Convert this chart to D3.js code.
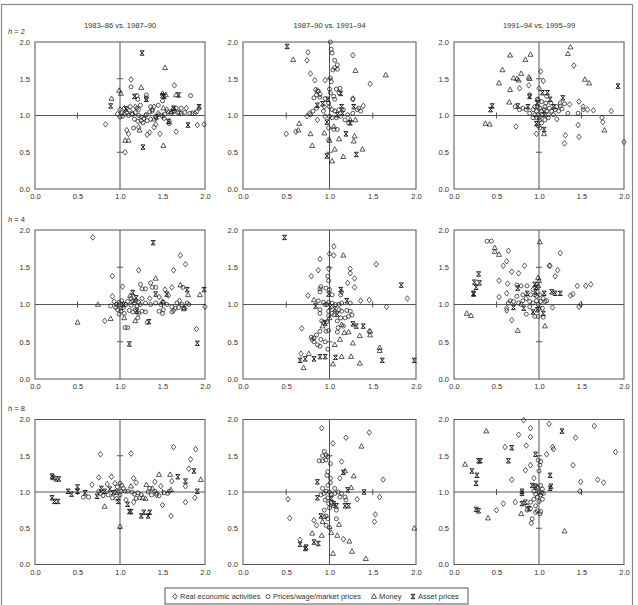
<!DOCTYPE html>
<html>
<head>
<meta charset="utf-8">
<script src="https://cdn.jsdelivr.net/npm/d3@7"></script>
<style>
  body { margin: 0; background: #fff; }
  svg { font-family: "Liberation Sans", Arial, sans-serif; }
</style>
</head>
<body>
<svg id="chart" width="638" height="605"></svg>
<script>
// ---- data: [x, y] ratios ----
const ticks = [0, 0.5, 1, 1.5, 2];
const colTitles = ["1983\u201386 vs. 1987\u201390", "1987\u201390 vs. 1991\u201394", "1991\u201394 vs. 1995\u201399"];
const rowLabels = ["2", "4", "8"];
const seriesNames = ["Real economic activities", "Prices/wage/market prices", "Money", "Asset prices"];

// h = 2, 1983-86 vs 1987-90
const r1 = [[0.83,0.88],[1.08,0.80],[1.10,0.75],[1.22,0.84],[1.32,0.74],[1.35,0.77],[1.40,0.84],[1.42,0.88],[1.47,0.75],[1.66,0.78],[1.91,0.87],[1.99,0.88],[1.06,0.50],[1.64,1.41],[1.13,1.49],[1.93,1.10],[1.85,1.03],[1.88,1.03],[1.78,1.10],[1.00,1.08],[1.05,1.10],[1.18,1.12],[1.22,1.08],[1.40,1.12],[1.55,1.08],[1.62,1.05],[1.70,1.04],[1.30,1.00],[1.45,1.03],[0.97,1.02],[1.15,1.02],[1.58,0.92],[1.25,0.93],[1.36,0.95]];
const p1 = [[1.13,1.39],[1.20,1.27],[1.21,1.22],[1.31,1.28],[1.31,1.24],[1.50,1.20],[1.83,1.27],[1.16,0.83],[1.58,0.89],[1.02,1.04],[1.05,1.02],[1.08,1.04],[1.11,1.07],[1.14,1.02],[1.18,1.04],[1.22,1.00],[1.25,0.98],[1.28,0.96],[1.31,1.01],[1.35,1.05],[1.38,1.06],[1.42,0.98],[1.46,1.01],[1.50,0.99],[1.53,1.02],[1.56,1.05],[1.60,1.03],[1.64,1.06],[1.68,1.04],[1.72,1.03],[1.76,1.04],[1.82,1.03],[1.90,1.05],[1.20,1.10],[1.24,1.14],[1.36,1.12],[1.38,1.08],[1.45,1.14],[1.10,1.00],[1.17,0.95],[1.21,0.92],[1.27,0.90],[1.32,0.93],[1.00,0.98],[1.03,0.99],[1.52,0.96],[1.63,1.09],[1.66,1.10],[1.72,1.10],[1.12,1.12]];
const m1 = [[1.53,1.65],[1.25,1.38],[0.99,1.34],[1.01,1.30],[0.90,1.23],[1.50,1.30],[1.54,1.28],[1.66,1.28],[1.51,1.10],[1.23,0.80],[1.06,0.66],[1.10,0.66],[1.51,0.59],[1.60,1.05],[1.40,0.95]];
const a1 = [[1.26,1.85],[0.89,1.13],[1.17,1.26],[1.31,1.22],[1.50,1.27],[1.52,1.26],[1.69,1.28],[1.63,1.10],[1.93,1.12],[1.80,0.87],[1.27,0.57],[1.57,0.92],[1.07,1.09],[1.43,0.98]];

// h = 2, 1987-90 vs 1991-94
const r2 = [[0.50,0.75],[0.61,0.78],[0.75,1.86],[0.74,1.75],[0.78,1.57],[0.83,1.48],[0.95,1.48],[1.27,1.82],[1.47,1.43],[1.39,1.13],[1.27,1.23],[0.86,0.94],[0.74,0.99],[0.77,1.03],[0.84,1.35],[0.86,1.34],[0.89,1.29],[0.94,1.12],[0.99,0.67]];
const p2 = [[1.01,2.00],[1.02,1.90],[1.03,1.85],[1.06,1.75],[1.09,1.69],[1.09,1.63],[1.04,1.62],[1.06,1.65],[1.01,1.51],[1.02,1.46],[1.08,1.36],[1.12,1.37],[1.11,1.31],[1.00,1.36],[1.01,1.31],[1.05,1.26],[1.06,1.22],[0.99,1.17],[0.89,1.25],[0.85,1.28],[0.82,1.24],[0.87,1.33],[0.95,1.23],[1.00,1.12],[1.03,1.08],[1.06,1.06],[1.11,1.08],[1.16,1.08],[1.21,1.01],[1.27,1.03],[1.32,1.08],[1.36,1.06],[1.34,1.10],[1.27,1.22],[0.93,1.06],[0.95,0.99],[1.00,0.99],[1.03,0.97],[1.08,0.97],[1.13,0.99],[1.18,0.94],[1.22,0.90],[0.99,0.83],[1.09,0.81],[1.05,0.81],[0.78,1.01],[0.81,1.06],[0.85,1.10]];
const m2 = [[0.58,1.76],[1.30,1.61],[1.65,1.55],[0.65,0.89],[0.64,0.80],[0.78,0.75],[0.80,0.59],[0.94,0.76],[1.00,0.66],[1.03,0.38],[1.06,0.54],[1.05,0.85],[1.16,0.44],[1.11,0.68],[1.29,0.72],[1.28,0.65],[1.38,0.54],[1.30,0.94],[1.24,0.94]];
const a2 = [[0.51,1.94],[0.97,0.45],[1.31,0.47],[1.19,0.75],[0.86,1.14],[0.92,1.16],[1.13,1.30],[1.14,1.12],[1.28,1.12],[1.24,0.90],[0.97,0.91],[1.09,1.01],[1.15,1.03],[0.98,1.22]];

// h = 2, 1991-94 vs 1995-99
const r3 = [[1.00,1.37],[1.05,1.47],[1.02,1.60],[0.77,1.37],[0.88,1.41],[0.89,1.28],[0.73,0.85],[0.97,0.75],[1.31,0.73],[1.30,0.62],[1.41,1.68],[1.47,1.19],[1.46,0.87],[1.47,0.71],[1.64,1.07],[1.74,0.97],[1.75,0.91],[1.85,1.06],[2.00,0.64],[1.21,0.95],[1.36,1.15],[1.57,1.08],[1.52,1.12]];
const p3 = [[0.93,1.08],[0.95,1.12],[0.97,1.06],[0.99,1.01],[1.00,0.97],[1.01,1.10],[1.03,1.06],[1.04,1.01],[1.06,1.08],[1.07,1.12],[1.09,1.06],[1.11,1.01],[1.12,1.10],[1.15,1.06],[1.17,1.01],[1.19,1.08],[1.21,1.12],[1.23,1.06],[1.25,1.13],[1.27,1.09],[0.95,1.01],[0.97,0.97],[1.01,0.94],[1.03,0.90],[0.99,0.86],[1.01,0.83],[1.07,0.94],[1.11,0.97],[0.93,0.97],[0.89,1.03],[0.77,1.08],[0.81,1.10],[0.72,1.12],[0.85,1.08],[0.98,1.22],[1.03,1.19],[1.08,1.17],[1.14,1.17],[1.34,1.03],[1.46,1.03],[1.52,1.08],[1.25,1.17],[1.30,1.16],[1.09,1.26],[0.98,1.12]];
const m3 = [[0.66,1.82],[0.84,1.76],[0.90,1.83],[1.37,1.93],[1.34,1.84],[0.57,1.62],[0.53,1.44],[0.70,1.51],[0.74,1.50],[0.76,1.48],[0.79,1.57],[0.88,1.52],[0.89,1.50],[0.66,1.35],[0.65,1.18],[0.37,0.89],[0.42,0.88],[1.54,1.49],[1.59,1.44],[1.77,0.80],[1.06,0.75],[0.99,1.22]];
const a3 = [[0.43,1.08],[0.45,1.13],[0.75,1.13],[0.89,1.26],[0.98,1.17],[1.04,1.31],[1.10,1.31],[1.13,1.22],[1.28,1.24],[1.17,1.12],[0.97,0.89],[1.06,0.81],[1.93,1.40],[0.87,1.12],[1.06,1.01]];

// h = 4, 1983-86 vs 1987-90
const r4 = [[0.68,1.90],[1.71,1.66],[1.77,1.54],[1.63,1.46],[1.22,1.46],[0.91,1.38],[1.03,1.24],[1.61,1.23],[1.53,1.20],[1.57,1.12],[0.91,1.11],[0.82,0.78],[1.90,0.67],[2.00,0.97],[1.63,0.92],[1.46,1.10],[1.70,1.05],[1.35,1.08]];
const p4 = [[1.36,1.29],[1.24,1.27],[1.38,1.23],[1.42,1.23],[1.26,1.21],[1.30,1.21],[1.74,1.23],[0.89,0.98],[1.06,0.69],[1.09,0.69],[1.32,0.76],[1.21,0.82],[0.99,1.00],[1.04,0.96],[1.07,1.00],[1.13,0.99],[1.17,1.02],[1.20,0.98],[1.24,1.00],[1.30,1.02],[1.36,1.00],[1.42,1.02],[1.48,1.00],[1.51,1.03],[1.55,1.00],[1.61,0.97],[1.67,1.02],[1.69,0.96],[1.73,1.00],[1.79,1.02],[1.81,1.00],[0.97,0.93],[1.01,0.91],[1.05,0.88],[1.11,0.92],[1.15,0.90],[1.18,0.93],[1.22,0.88],[1.26,0.91],[1.30,0.90],[1.46,0.91],[1.50,0.88],[1.51,0.93],[1.61,0.90],[1.65,0.95],[1.75,0.95],[0.93,1.04],[0.96,1.00],[0.95,0.96],[0.99,1.03],[1.02,1.05],[1.09,1.04],[1.13,1.08],[1.15,1.05],[1.18,1.05],[1.22,1.03],[1.26,1.08],[0.99,0.87],[1.01,0.95]];
const m4 = [[1.42,1.35],[1.71,1.26],[1.12,1.12],[1.80,1.13],[1.94,1.13],[0.74,1.00],[0.89,0.81],[0.50,0.76],[1.05,0.82],[1.18,0.78],[1.50,1.04],[1.75,0.94],[1.76,0.96]];
const a4 = [[1.39,1.83],[1.42,1.14],[1.15,1.16],[1.19,1.09],[1.55,1.14],[1.79,1.20],[1.99,1.20],[1.11,0.47],[1.91,0.48],[1.34,0.77],[1.04,1.00],[1.20,0.91]];

// h = 4, 1987-90 vs 1991-94
const r5 = [[1.05,1.78],[1.00,1.68],[1.05,1.66],[0.89,1.61],[0.99,1.48],[0.79,1.38],[0.87,1.46],[1.54,1.54],[1.90,1.08],[1.66,0.97],[1.46,1.06],[1.36,1.05],[1.29,1.35],[1.29,1.23],[1.21,1.29],[1.24,1.48],[1.24,1.42],[0.75,1.12],[0.68,0.68],[0.67,0.34],[1.46,0.64],[1.14,1.17]];
const p5 = [[0.99,1.32],[0.98,1.38],[0.90,1.24],[0.89,1.21],[0.89,1.17],[0.96,1.22],[1.00,1.20],[1.03,1.13],[1.13,1.13],[0.87,1.05],[0.93,1.03],[0.95,1.00],[0.97,1.00],[0.99,1.03],[1.03,1.02],[1.07,1.00],[1.11,1.00],[1.14,1.02],[1.24,1.02],[0.89,0.93],[0.89,0.88],[0.99,0.91],[1.03,0.88],[0.99,0.85],[1.05,0.86],[1.11,0.93],[1.14,0.91],[1.20,0.92],[1.22,0.84],[1.26,0.86],[1.24,0.91],[1.18,0.82],[1.13,0.82],[1.09,0.78],[0.91,0.78],[0.93,0.76],[0.97,0.77],[0.99,0.65],[0.96,0.64],[0.89,0.64],[0.85,0.59],[0.79,0.56],[0.80,0.53],[0.82,0.50],[0.86,0.46],[0.89,0.44],[0.90,0.53],[0.95,0.50],[0.98,0.40],[1.09,0.63],[1.10,0.69],[1.16,0.71],[0.82,0.55]];
const m5 = [[1.16,1.66],[0.82,1.06],[1.14,0.73],[1.22,0.63],[1.17,0.62],[1.12,0.53],[1.06,0.46],[1.27,0.48],[1.35,0.58],[1.47,0.59],[1.47,0.64],[1.58,0.42],[1.58,0.38],[1.14,0.30],[1.25,0.30],[1.35,0.21],[1.04,0.20],[0.76,0.34],[0.70,0.15],[0.92,0.71],[1.00,0.82]];
const a5 = [[0.48,1.90],[1.83,1.26],[1.13,1.20],[1.20,1.05],[0.84,0.98],[1.01,0.97],[1.06,0.94],[1.09,0.87],[1.27,0.74],[1.31,0.71],[1.39,0.71],[0.66,0.25],[0.72,0.27],[0.82,0.27],[0.89,0.30],[0.95,0.30],[1.07,0.29],[1.61,0.25],[1.98,0.25],[0.95,0.75],[0.99,1.14]];

// h = 4, 1991-94 vs 1995-99
const r6 = [[0.64,1.72],[0.62,1.58],[0.58,1.52],[0.68,1.44],[0.76,1.42],[0.83,1.52],[0.53,1.32],[0.63,1.28],[0.53,1.10],[0.62,1.15],[1.25,1.69],[1.12,1.52],[1.13,1.52],[1.22,1.46],[1.19,1.38],[1.45,1.25],[1.55,1.25],[1.61,1.27],[1.40,1.14],[1.37,1.12],[1.16,0.96],[1.47,0.97],[1.49,1.00],[0.68,0.79],[0.62,0.92],[0.62,0.95]];
const p6 = [[0.39,1.85],[0.44,1.85],[0.74,1.26],[0.79,1.25],[0.86,1.25],[0.93,1.20],[0.90,1.13],[0.81,1.13],[0.74,1.11],[0.70,1.04],[0.66,1.05],[0.64,1.02],[0.76,1.02],[0.81,1.05],[0.85,1.08],[0.89,1.04],[0.93,1.02],[0.97,1.05],[0.99,1.00],[1.02,1.04],[1.05,1.08],[1.07,1.04],[1.04,0.95],[1.00,0.95],[0.85,0.87],[0.95,0.84],[0.99,0.84],[1.05,0.83],[0.89,0.97],[0.79,1.00],[0.97,1.11],[1.01,1.13],[0.95,1.13],[1.09,1.05]];
const m6 = [[0.48,1.76],[0.48,1.71],[0.53,1.67],[1.01,1.84],[0.15,0.88],[0.20,0.85],[0.75,0.65],[1.07,0.71],[0.99,1.36],[1.00,1.32],[0.99,1.25]];
const a6 = [[0.29,1.41],[0.24,1.30],[0.30,1.29],[0.26,1.23],[0.23,1.15],[0.23,1.14],[0.75,1.22],[0.86,1.15],[0.95,1.27],[0.97,1.23],[0.96,1.17],[1.06,1.15],[1.15,1.17],[1.19,1.15],[1.25,1.15],[0.70,0.96],[0.82,0.95],[0.93,0.90],[1.05,0.88],[0.98,0.93]];

// h = 8, 1983-86 vs 1987-90
const r7 = [[0.77,1.52],[1.13,1.53],[1.63,1.62],[1.89,1.59],[1.83,1.45],[1.81,1.32],[1.77,1.08],[1.77,0.86],[1.88,0.92],[1.60,0.67],[1.50,0.82],[1.00,0.52],[0.90,1.21],[0.75,1.20],[0.67,1.10],[0.85,1.11],[0.94,1.12],[1.16,1.19],[1.19,1.13],[1.41,1.14],[1.48,1.08],[1.61,1.15],[1.43,0.96],[1.07,0.89],[1.16,0.86]];
const p7 = [[0.57,0.93],[0.63,0.93],[0.75,1.01],[0.77,0.98],[0.80,0.95],[0.86,0.96],[0.91,0.92],[0.96,0.91],[1.00,0.96],[1.01,1.01],[1.04,1.05],[1.06,1.01],[1.09,1.01],[1.14,1.00],[1.17,0.97],[1.21,0.99],[1.25,0.96],[1.19,0.91],[1.23,0.92],[1.33,1.00],[1.37,0.96],[1.43,0.98],[1.46,0.95],[1.52,0.99],[1.56,0.98],[1.58,1.01],[1.35,1.05],[1.41,1.01],[1.00,1.12],[1.02,1.09],[0.97,1.07]];
const m7 = [[1.46,1.24],[1.59,1.24],[1.95,1.17],[0.82,0.80],[1.13,1.08],[1.31,1.10],[1.27,0.92],[1.30,0.91],[1.38,1.05],[1.60,1.03]];
const a7 = [[0.20,1.22],[0.21,1.20],[0.25,1.18],[0.28,1.18],[0.20,0.92],[0.23,0.87],[0.27,0.87],[0.39,1.01],[0.43,0.97],[0.50,1.07],[0.50,1.01],[0.59,0.99],[0.73,0.94],[0.78,1.05],[0.82,1.01],[0.88,1.04],[0.92,0.99],[0.98,0.87],[1.09,0.83],[1.11,0.73],[1.13,0.73],[1.25,0.67],[1.28,0.72],[1.33,0.67],[1.35,0.72],[1.68,1.21],[1.77,1.15],[1.87,1.29],[1.91,1.01],[0.96,1.00]];

// h = 8, 1987-90 vs 1991-94
const r8 = [[0.91,1.88],[1.46,1.82],[1.19,1.75],[1.04,1.67],[1.62,1.17],[1.58,0.93],[1.32,0.90],[1.53,0.69],[1.52,0.59],[0.52,0.90],[0.54,0.64],[1.14,1.42],[1.12,1.19],[0.82,0.61],[0.85,0.54],[0.66,0.34],[1.16,0.35]];
const p8 = [[0.94,1.56],[0.92,1.50],[0.96,1.51],[0.98,1.49],[0.88,1.43],[0.92,1.43],[0.96,1.44],[1.01,1.39],[0.97,1.23],[1.01,1.19],[1.01,1.13],[0.98,1.09],[0.92,1.05],[0.94,0.98],[0.96,1.01],[1.00,1.00],[1.02,0.97],[0.98,0.92],[0.95,0.89],[0.99,0.84],[1.02,0.86],[1.04,0.81],[1.08,0.75],[1.00,0.78],[0.94,0.75],[0.96,0.67],[0.98,0.63],[1.08,0.63],[1.00,0.51],[0.96,0.54],[1.10,1.00],[1.14,0.98],[1.18,0.93],[1.19,0.89],[1.12,0.93],[1.06,0.98],[1.06,1.05],[0.90,0.96],[0.98,1.28]];
const m8 = [[1.37,1.63],[1.28,1.22],[1.18,1.29],[1.25,1.06],[1.11,0.55],[0.80,0.43],[0.91,0.40],[1.09,0.40],[1.23,0.32],[1.26,0.18],[1.04,0.15],[1.42,0.08],[1.98,0.50],[1.02,0.44],[0.94,0.66],[0.92,0.59]];
const a8 = [[0.86,1.14],[1.16,1.27],[1.21,1.03],[1.40,1.00],[1.18,0.81],[1.22,0.81],[0.86,0.92],[0.90,0.67],[0.66,0.28],[0.73,0.24],[0.72,0.22],[0.82,0.31],[0.87,0.29],[1.02,0.91],[1.05,0.84],[1.08,0.81]];

// h = 8, 1991-94 vs 1995-99
const r9 = [[0.82,1.99],[1.12,1.94],[1.65,1.91],[0.90,1.88],[0.76,1.79],[0.90,1.76],[1.43,1.75],[0.85,1.64],[0.60,1.62],[1.16,1.62],[1.17,1.59],[1.09,1.52],[1.40,1.37],[0.90,1.37],[0.84,1.30],[0.68,1.17],[1.90,1.55],[1.69,1.17],[1.76,1.13],[1.49,1.14],[1.48,1.01],[0.58,0.84],[0.50,0.75],[0.72,0.86],[0.94,1.19]];
const p9 = [[0.99,1.44],[1.02,1.42],[1.01,1.37],[1.00,1.29],[0.96,1.09],[0.98,1.05],[1.02,1.09],[1.04,1.04],[1.00,1.00],[1.02,0.96],[0.98,0.93],[0.96,0.97],[0.94,0.90],[1.04,0.90],[1.00,0.87],[0.90,0.86],[0.86,0.81],[0.90,0.77],[0.86,0.75],[0.96,0.81],[0.98,0.74],[1.02,0.73],[1.01,0.70],[0.96,0.72],[0.92,0.63],[0.91,0.57],[1.03,0.99],[1.05,0.98],[0.94,1.01]];
const m9 = [[0.38,1.84],[0.13,1.38],[0.40,0.64],[1.30,0.46],[0.79,0.70]];
const a9 = [[1.27,1.84],[0.68,1.61],[0.29,1.43],[0.31,1.43],[0.21,1.29],[0.27,1.23],[0.26,1.12],[0.64,1.43],[0.96,1.52],[1.13,1.23],[1.14,1.08],[1.13,1.05],[0.26,0.76],[0.29,0.74],[0.80,1.01],[0.80,0.98],[0.80,0.84],[0.84,0.86],[0.92,1.09],[0.96,1.07],[0.88,0.77]];

const panelData = [
  [r1, p1, m1, a1], [r2, p2, m2, a2], [r3, p3, m3, a3],
  [r4, p4, m4, a4], [r5, p5, m5, a5], [r6, p6, m6, a6],
  [r7, p7, m7, a7], [r8, p8, m8, a8], [r9, p9, m9, a9]
];

// ---- layout ----
const colLeft = [35, 243, 454];
const colWidth = [170, 173, 170];
const rowTop = [42, 230, 419.5];
const rowHeight = [147, 149, 145];
const ink = "#333";
const lineCol = "#555";

// marker outlines, drawn around (0,0)
const shapes = [
  "M0,-2.8L2.2,0L0,2.8L-2.2,0Z",
  "M2,0A2,2 0 1,1 -2,0A2,2 0 1,1 2,0Z",
  "M0,-2.7L2.5,1.8L-2.5,1.8Z",
  "M-2,-2.2H2M-2,2.2H2M-2,-2.2L2,2.2M2,-2.2L-2,2.2"
];

const svg = d3.select("#chart");

// outer frame
svg.append("rect")
   .attr("x", 1.5).attr("y", 4.5)
   .attr("width", 631).attr("height", 640)
   .attr("fill", "none").attr("stroke", "#8a8a8a").attr("stroke-width", 1.2);

const fmt = d3.format(".1f");

panelData.forEach((series, i) => {
  let row = Math.floor(i / 3), col = i % 3;
  let w = colWidth[col], h = rowHeight[row];
  let x = d3.scaleLinear().domain([0, 2]).range([0, w]);
  let y = d3.scaleLinear().domain([0, 2]).range([h, 0]);

  let g = svg.append("g").attr("transform", "translate(" + colLeft[col] + "," + rowTop[row] + ")");

  // axes labels
  let xAxis = g.append("g").attr("transform", "translate(0," + h + ")")
     .call(d3.axisBottom(x).tickValues(ticks).tickSize(0).tickPadding(5).tickFormat(fmt));
  let yAxis = g.append("g")
     .call(d3.axisLeft(y).tickValues(ticks).tickSize(0).tickPadding(5).tickFormat(fmt));
  [xAxis, yAxis].forEach(a => {
    a.select(".domain").remove();
    a.selectAll("text").attr("fill", ink).style("font-size", "7.5px");
  });

  // plot frame
  g.append("rect").attr("width", w).attr("height", h)
   .attr("fill", "none").attr("stroke", lineCol).attr("stroke-width", 1);

  // cross at 1.0 with small ticks at 0.5 and 1.5
  g.append("line").attr("x1", x(1)).attr("x2", x(1)).attr("y1", 0).attr("y2", h)
   .attr("stroke", lineCol);
  g.append("line").attr("x1", 0).attr("x2", w).attr("y1", y(1)).attr("y2", y(1))
   .attr("stroke", lineCol);
  [0.5, 1.5].forEach(v => {
    g.append("line").attr("x1", x(1) - 3).attr("x2", x(1) + 3).attr("y1", y(v)).attr("y2", y(v))
     .attr("stroke", lineCol);
    g.append("line").attr("x1", x(v)).attr("x2", x(v)).attr("y1", y(1) - 3).attr("y2", y(1) + 3)
     .attr("stroke", lineCol);
  });

  // points
  series.forEach((pts, s) => {
    g.append("g").selectAll("path")
     .data(pts)
     .enter()
     .append("path")
     .attr("d", shapes[s])
     .attr("transform", d => "translate(" + x(d[0]) + "," + y(d[1]) + ")")
     .attr("fill", "none")
     .attr("stroke", "#222")
     .attr("stroke-width", s == 3 ? 1 : 0.75);
  });

  if (row == 0) {
    g.append("text").attr("x", w / 2).attr("y", -14)
     .attr("text-anchor", "middle").attr("fill", ink).style("font-size", "7.5px")
     .text(colTitles[col]);
  }
  if (col == 0) {
    let t = svg.append("text").attr("x", 8).attr("y", rowTop[row] - 8.5)
       .attr("fill", ink).style("font-size", "7.5px");
    t.append("tspan").style("font-style", "italic").text("h");
    t.append("tspan").text(" = " + rowLabels[row]);
  }
});

// legend
const legend = svg.append("g").attr("transform", "translate(165,588)");
legend.append("rect").attr("width", 303).attr("height", 16)
      .attr("fill", "#fff").attr("stroke", "#555").attr("stroke-width", 1);
const legendX = [10, 103, 209, 248];
seriesNames.forEach((name, s) => {
  let item = legend.append("g").attr("transform", "translate(" + legendX[s] + ",8.5)");
  item.append("path").attr("d", shapes[s]).attr("fill", "none")
      .attr("stroke", "#222").attr("stroke-width", s == 3 ? 1 : 0.75);
  item.append("text").attr("x", 5).attr("y", 2.7)
      .attr("fill", ink).style("font-size", "7.5px").text(name);
});
</script>
</body>
</html>
